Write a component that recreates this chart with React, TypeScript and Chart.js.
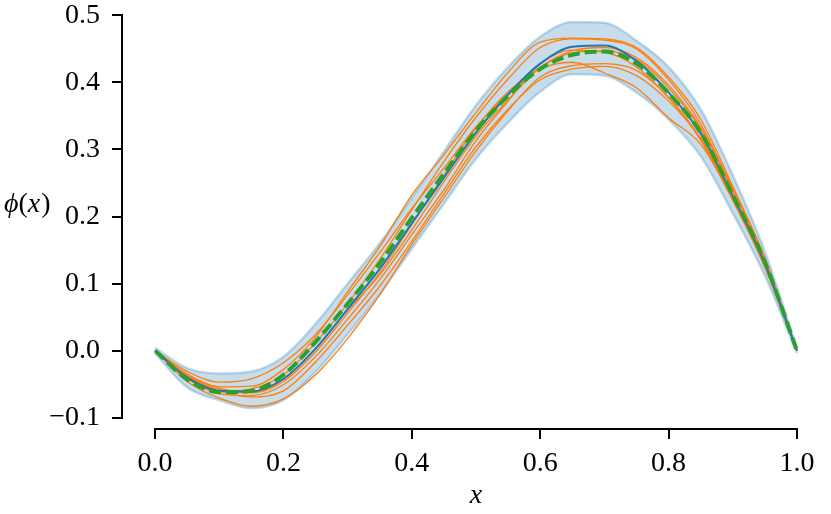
import React, { useEffect, useRef } from "react";
import { Chart, registerables } from "chart.js";

Chart.register(...registerables);

// x positions shared by every curve
const xs = [0, 0.05, 0.1, 0.15, 0.2, 0.25, 0.3, 0.35, 0.4, 0.45, 0.5, 0.55, 0.6, 0.65, 0.7, 0.75, 0.8, 0.85, 0.9, 0.95, 1.0];

// true function (green dashed)
const trueVals = [0, -0.043, -0.062, -0.060, -0.036, 0.013, 0.070, 0.130, 0.198, 0.264, 0.328, 0.380, 0.420, 0.441, 0.446, 0.428, 0.384, 0.325, 0.232, 0.132, 0];
// posterior mean (blue)
const meanVals = [0, -0.040, -0.060, -0.061, -0.042, 0.003, 0.062, 0.122, 0.190, 0.258, 0.325, 0.382, 0.428, 0.453, 0.455, 0.432, 0.385, 0.324, 0.231, 0.130, 0];
// shaded band
const bandUpper = [0.004, -0.026, -0.034, -0.031, -0.009, 0.040, 0.100, 0.160, 0.228, 0.297, 0.366, 0.423, 0.468, 0.490, 0.489, 0.462, 0.423, 0.360, 0.262, 0.148, 0.004];
const bandLower = [-0.004, -0.055, -0.074, -0.086, -0.074, -0.032, 0.024, 0.084, 0.152, 0.219, 0.286, 0.340, 0.386, 0.412, 0.410, 0.385, 0.345, 0.290, 0.205, 0.112, -0.004];

// posterior samples (orange)
const sample1 = [0, -0.031, -0.047, -0.042, -0.018, 0.024, 0.083, 0.146, 0.212, 0.272, 0.334, 0.382, 0.422, 0.444, 0.447, 0.434, 0.392, 0.330, 0.238, 0.134, 0];
const sample2 = [0, -0.046, -0.071, -0.083, -0.072, -0.036, 0.018, 0.083, 0.158, 0.228, 0.298, 0.358, 0.408, 0.425, 0.428, 0.418, 0.378, 0.316, 0.226, 0.124, 0];
const sample3 = [0, -0.037, -0.054, -0.053, -0.028, 0.020, 0.088, 0.155, 0.232, 0.292, 0.355, 0.415, 0.460, 0.466, 0.465, 0.452, 0.408, 0.345, 0.245, 0.138, 0];
const sample4 = [0, -0.042, -0.061, -0.057, -0.036, 0.012, 0.070, 0.136, 0.210, 0.282, 0.348, 0.405, 0.452, 0.465, 0.463, 0.450, 0.404, 0.338, 0.240, 0.133, 0];
const sample5 = [0, -0.040, -0.058, -0.063, -0.046, -0.002, 0.056, 0.116, 0.188, 0.262, 0.332, 0.386, 0.420, 0.430, 0.414, 0.392, 0.347, 0.308, 0.225, 0.127, 0];
const sample6 = [0, -0.038, -0.060, -0.069, -0.060, -0.017, 0.038, 0.096, 0.163, 0.234, 0.304, 0.360, 0.404, 0.420, 0.424, 0.410, 0.372, 0.316, 0.230, 0.131, 0];
const sample7 = [0, -0.035, -0.056, -0.062, -0.043, 0.003, 0.060, 0.113, 0.180, 0.252, 0.320, 0.374, 0.422, 0.447, 0.452, 0.437, 0.396, 0.333, 0.243, 0.138, 0];
const sample8 = [0, -0.041, -0.064, -0.067, -0.051, -0.009, 0.047, 0.106, 0.173, 0.240, 0.313, 0.372, 0.427, 0.448, 0.445, 0.423, 0.377, 0.314, 0.224, 0.125, 0];
const samples = [sample1, sample2, sample3, sample4, sample5, sample6, sample7, sample8];

const xTicks = [0, 0.2, 0.4, 0.6, 0.8, 1.0];
const yTicks = [-0.1, 0, 0.1, 0.2, 0.3, 0.4, 0.5];

const FONT = "'Liberation Serif', 'DejaVu Serif', serif";

const pts = (ys: number[]) => xs.map((x, i) => ({ x, y: ys[i] }));
const fmt = (v: number) => (v < 0 ? "\u2212" : "") + Math.abs(v).toFixed(1);

// trimmed spines (matplotlib despine style) + horizontal y label
const spinePlugin = {
  id: "spines",
  afterDraw(chart: any) {
    const { ctx, chartArea } = chart;
    const sx = chart.scales.x;
    const sy = chart.scales.y;
    ctx.save();
    ctx.strokeStyle = "#000";
    ctx.lineWidth = 2;
    ctx.lineCap = "square";
    const by = chartArea.bottom + 1;
    ctx.beginPath();
    ctx.moveTo(sx.getPixelForValue(xTicks[0]), by);
    ctx.lineTo(sx.getPixelForValue(xTicks[xTicks.length - 1]), by);
    ctx.stroke();
    const lx = chartArea.left - 1;
    ctx.beginPath();
    ctx.moveTo(lx, sy.getPixelForValue(yTicks[0]));
    ctx.lineTo(lx, sy.getPixelForValue(yTicks[yTicks.length - 1]));
    ctx.stroke();

    // y label: italic phi, upright parens, italic x
    const parts: [string, boolean][] = [["\u03D5", true], ["(", false], ["x", true], [")", false]];
    let px = 4;
    const base = 212;
    ctx.fillStyle = "#000";
    ctx.textBaseline = "alphabetic";
    ctx.textAlign = "left";
    for (const [t, it] of parts) {
      ctx.font = (it ? "italic " : "") + "28px " + FONT;
      ctx.fillText(t, px, base);
      px += ctx.measureText(t).width + (t === "x" ? 1 : 0);
    }
    ctx.restore();
  },
};

const App = () => {
  const chartRef = useRef<HTMLCanvasElement>(null);

  useEffect(() => {
    if (!chartRef.current) return;

    const sampleSets = samples.map((s) => ({
      data: pts(s),
      borderColor: "#ff7f0e",
      borderWidth: 1.3,
      pointRadius: 0,
      fill: false,
      cubicInterpolationMode: "monotone" as const,
      order: 2,
    }));

    const chart = new Chart(chartRef.current, {
      type: "line",
      data: {
        datasets: [
          {
            data: pts(bandLower),
            borderColor: "rgba(31,119,180,0.25)",
            borderWidth: 2.5,
            pointRadius: 0,
            fill: false,
            cubicInterpolationMode: "monotone",
            order: 5,
          },
          {
            data: pts(bandUpper),
            borderColor: "rgba(31,119,180,0.25)",
            backgroundColor: "rgba(31,119,180,0.25)",
            borderWidth: 2.5,
            pointRadius: 0,
            fill: "-1",
            cubicInterpolationMode: "monotone",
            order: 4,
          },
          ...sampleSets,
          {
            data: pts(meanVals),
            borderColor: "#1f77b4",
            borderWidth: 2,
            pointRadius: 0,
            fill: false,
            cubicInterpolationMode: "monotone",
            order: 1,
          },
          {
            data: pts(trueVals),
            borderColor: "#2ca02c",
            borderWidth: 4,
            borderDash: [12, 5],
            pointRadius: 0,
            fill: false,
            cubicInterpolationMode: "monotone",
            order: 0,
          },
        ],
      },
      options: {
        animation: false,
        responsive: true,
        maintainAspectRatio: false,
        layout: { padding: { left: 0, right: 2, top: 5, bottom: 0 } },
        plugins: { legend: { display: false }, tooltip: { enabled: false } },
        scales: {
          x: {
            type: "linear",
            min: -0.05,
            max: 1.05,
            afterBuildTicks: (axis: any) => {
              axis.ticks = xTicks.map((v) => ({ value: v }));
            },
            afterFit: (axis: any) => {
              axis.height = 86;
              axis.paddingLeft = 0;
              axis.paddingRight = 0;
            },
            border: { display: false },
            grid: {
              drawOnChartArea: false,
              drawTicks: true,
              tickLength: 11,
              tickWidth: 2,
              tickColor: "#000",
              color: "#000",
              lineWidth: 2,
            },
            ticks: {
              color: "#000",
              padding: 8,
              maxRotation: 0,
              font: { family: FONT, size: 28 },
              callback: (v: any) => fmt(Number(v)),
            },
            title: {
              display: true,
              text: "x",
              color: "#000",
              font: { family: FONT, size: 28, style: "italic" },
              padding: { top: 0, bottom: 2 },
            },
          },
          y: {
            type: "linear",
            min: -0.1154,
            max: 0.5154,
            afterBuildTicks: (axis: any) => {
              axis.ticks = yTicks.map((v) => ({ value: v }));
            },
            afterFit: (axis: any) => {
              axis.width = 123;
              axis.paddingTop = 0;
              axis.paddingBottom = 0;
            },
            border: { display: false },
            grid: {
              drawOnChartArea: false,
              drawTicks: true,
              tickLength: 11,
              tickWidth: 2,
              tickColor: "#000",
              color: "#000",
              lineWidth: 2,
            },
            ticks: {
              color: "#000",
              padding: 12,
              font: { family: FONT, size: 28 },
              callback: (v: any) => fmt(Number(v)),
            },
          },
        },
      },
      plugins: [spinePlugin],
    });

    return () => {
      chart.destroy();
    };
  }, []);

  return (
    <div style={{ position: "fixed", left: 0, top: 0, width: "831px", height: "514px", background: "#fff" }}>
      <canvas ref={chartRef}></canvas>
    </div>
  );
};

export default App;
